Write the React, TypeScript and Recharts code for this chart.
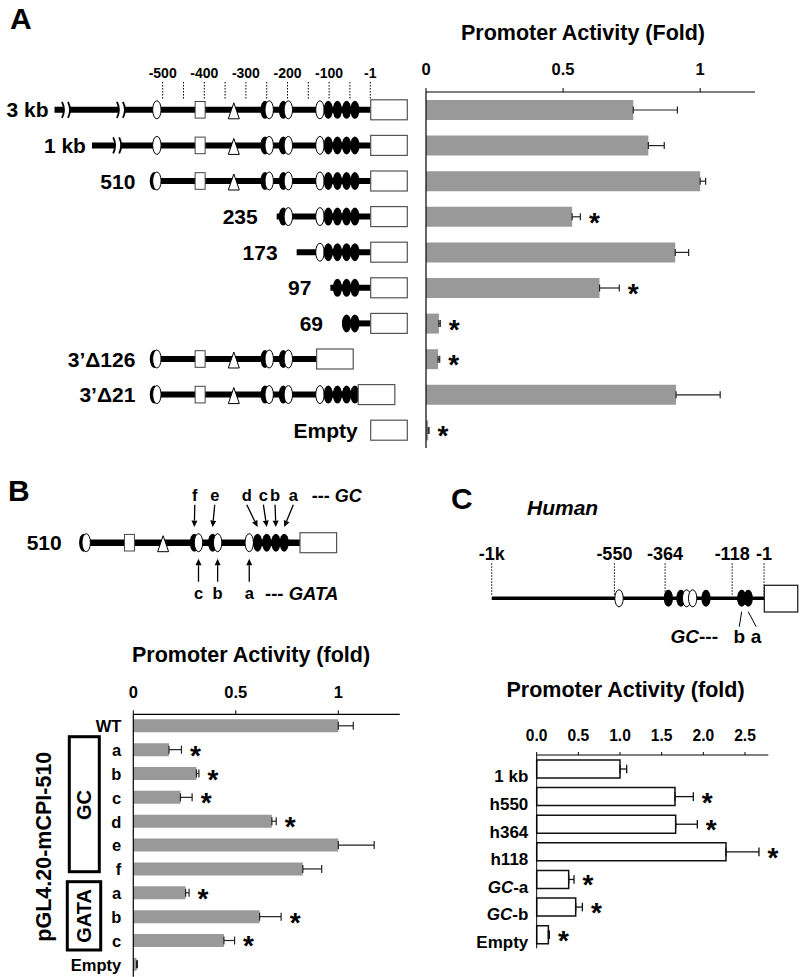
import React from "react";
import {
  BarChart,
  Bar,
  XAxis,
  YAxis,
  ErrorBar,
  LabelList,
  ScatterChart,
  Scatter,
  ReferenceLine,
} from "recharts";

const FONT = "'Liberation Sans', Arial, Helvetica, sans-serif";
const GRAY = "#999999";

// mouse promoter elements (bp from TSS) and their symbols
const SITE_POS = [-514, -410, -329, -254, -244, -210, -198, -122, -102, -80, -58, -38];
const SITE_KIND = ["open", "square", "triangle", "solid", "open", "solid", "open", "open", "solid", "solid", "solid", "solid"];
const POS_TICKS = [-500, -400, -300, -200, -100, -1];
const POS_GUIDES = [-500, -450, -400, -350, -300, -250, -200, -150, -100, -50, -1];

// panel A constructs
const A_NAMES = ["3 kb", "1 kb", "510", "235", "173", "97", "69", "3’Δ126", "3’Δ21", "Empty"];
const A_FROM = [-760, -670, -520, -226, -178, -97, -69, -520, -520, 0];
const A_TO = [0, 0, 0, 0, 0, 0, 0, -130, -30, 0];
const A_CAP = [0, 0, 1, 0, 0, 0, 0, 1, 1, 0];
const A_BREAKS = [[-730, -598], [-607], [], [], [], [], [], [], [], []];
const A_FOLD = [0.756, 0.811, 1.0, 0.533, 0.909, 0.633, 0.047, 0.044, 0.912, 0.008];
const A_SEM = [0.161, 0.058, 0.02, 0.03, 0.049, 0.072, 0.005, 0.006, 0.161, 0.003];
const A_SIG = [0, 0, 0, 1, 0, 1, 1, 1, 0, 1];

// panel B mutants
const B_IDS = ["WT", "GC-a", "GC-b", "GC-c", "GC-d", "GC-e", "GC-f", "GATA-a", "GATA-b", "GATA-c", "Empty"];
const B_TICKS = ["WT", "a", "b", "c", "d", "e", "f", "a", "b", "c", "Empty"];
const B_FOLD = [1.0, 0.174, 0.308, 0.23, 0.676, 1.0, 0.827, 0.255, 0.616, 0.442, 0.016];
const B_SEM = [0.073, 0.061, 0.012, 0.057, 0.021, 0.175, 0.092, 0.017, 0.105, 0.052, 0.004];
const B_SIG = [0, 1, 1, 1, 1, 0, 0, 1, 1, 1, 0];
const GC_MARKS = ["f", "e", "d", "c", "b", "a"];
const GC_SITE = [-254, -210, -102, -80, -58, -38];
const GC_LABEL_AT = [-253, -205, -128, -88, -60, -16];
const GATA_MARKS = ["c", "b", "a"];
const GATA_SITE = [-244, -198, -122];

// panel C human promoter
const H_SITE_POS = [-533, -352, -306, -285, -263, -214, -83, -59];
const H_SITE_KIND = ["open", "solid", "solid", "open", "open", "solid", "solid", "solid"];
const H_TICKS = [-1000, -550, -364, -118, -1];
const H_GC_MARKS = ["b", "a"];
const H_GC_SITE = [-83, -59];
const H_GC_LABEL_AT = [-92, -30];
const C_NAMES = ["1 kb", "h550", "h364", "h118", "GC-a", "GC-b", "Empty"];
const C_FOLD = [1.0, 1.66, 1.668, 2.272, 0.384, 0.468, 0.14];
const C_SEM = [0.08, 0.22, 0.26, 0.396, 0.064, 0.08, 0.012];
const C_SIG = [0, 1, 1, 1, 1, 1, 1];

type Pt = { x: number; y: number; kind: string; text?: string; gap?: number; ry?: number; size?: number };

const Blank = () => <g />;

function Mark(props: any) {
  const { cx, cy, payload } = props;
  const p = payload as Pt;
  const ry = p.ry ?? 9;
  switch (p.kind) {
    case "open":
      return <ellipse cx={cx} cy={cy} rx={4.2} ry={ry} fill="#fff" stroke="#000" strokeWidth={1} />;
    case "solid":
      return <ellipse cx={cx} cy={cy} rx={4.6} ry={ry} fill="#000" />;
    case "square":
      return <rect x={cx - 5} y={cy - 8.3} width={10} height={16.6} fill="#fff" stroke="#444" strokeWidth={1} />;
    case "triangle":
      return (
        <polygon
          points={`${cx},${cy - 7} ${cx - 5.5},${cy + 9} ${cx + 5.5},${cy + 9}`}
          fill="#fff"
          stroke="#000"
          strokeWidth={1}
        />
      );
    case "box":
      return <rect x={cx} y={cy - 10} width={36.6} height={20} fill="#fff" stroke="#555" strokeWidth={1.2} />;
    case "hbox":
      return <rect x={cx} y={cy - 13} width={33.4} height={26.7} fill="#fff" stroke="#222" strokeWidth={1.3} />;
    case "break":
      return (
        <g>
          <rect x={cx - 3} y={cy - 4} width={6} height={8} fill="#fff" />
          <path d={`M${cx - 5},${cy - 8} Q${cx - 1},${cy} ${cx - 5},${cy + 8}`} fill="none" stroke="#000" strokeWidth={1.8} />
          <path d={`M${cx + 1},${cy - 8} Q${cx + 5},${cy} ${cx + 1},${cy + 8}`} fill="none" stroke="#000" strokeWidth={1.8} />
        </g>
      );
    case "label":
      return (
        <text x={cx - (p.gap ?? 19)} y={cy} dy="0.36em" textAnchor="end" fontSize={21} fontWeight="bold" fontFamily={FONT} fill="#000">
          {p.text}
        </text>
      );
    case "letter":
      return (
        <text x={cx} y={cy} dy="0.36em" textAnchor="middle" fontSize={p.size ?? 18} fontWeight="bold" fontFamily={FONT} fill="#000">
          {p.text}
        </text>
      );
  }
  return <g />;
}

const Arrow = (props: any) => {
  const { x1, y1, x2, y2 } = props;
  const ang = Math.atan2(y2 - y1, x2 - x1);
  const L = 6.5;
  const W = 3;
  const bx = x2 - L * Math.cos(ang);
  const by = y2 - L * Math.sin(ang);
  const px = -Math.sin(ang) * W;
  const py = Math.cos(ang) * W;
  return (
    <g>
      <line x1={x1} y1={y1} x2={bx} y2={by} stroke="#000" strokeWidth={1.3} />
      <polygon points={`${x2},${y2} ${bx + px},${by + py} ${bx - px},${by - py}`} fill="#000" />
    </g>
  );
};

const posTick = (size: number, lift: number, fmt?: (v: number) => string) => (p: any) => (
  <text x={p.x} y={p.y - lift} textAnchor="middle" fontSize={size} fontWeight="bold" fontFamily={FONT} fill="#000">
    {fmt ? fmt(p.payload.value) : p.payload.value}
  </text>
);

// builds marks for one promoter row
function rowMarks(y: number, from: number, to: number, cap: boolean, breaks: number[], pos: number[], kind: string[], ry?: number) {
  const out: Pt[] = [];
  breaks.forEach((b) => out.push({ x: b, y, kind: "break" }));
  if (cap) out.push({ x: from, y, kind: "solid", ry });
  pos.forEach((p, k) => {
    if (p >= from && p < to) out.push({ x: p, y, kind: kind[k], ry });
  });
  return out;
}

const starContent = (rows: { value: number; err: number[]; sig: number }[]) => (props: any) => {
  const vb = props.viewBox || props;
  const row = rows[props.index];
  if (!row || !row.sig) return null;
  const x = Number(vb.x);
  const w = Number(vb.width);
  const end = x + (w * (row.value + row.err[1])) / row.value;
  const cy = Number(vb.y) + Number(vb.height) / 2;
  return (
    <text x={end + 14} y={cy + 15} textAnchor="middle" fontSize={28} fontWeight="bold" fontFamily={FONT} fill="#000">
      *
    </text>
  );
};

const axisTickStyle = (size: number) => ({ fill: "#000", fontSize: size, fontWeight: "bold", fontFamily: FONT });

function DiagramA() {
  const marks: Pt[] = [];
  A_NAMES.forEach((name, i) => {
    marks.push(...rowMarks(i, A_FROM[i], A_TO[i], !!A_CAP[i], A_BREAKS[i], SITE_POS, SITE_KIND));
    marks.push({ x: A_TO[i], y: i, kind: "box" });
    const gap = A_BREAKS[i].length ? 6 : A_FROM[i] < A_TO[i] ? 19 : 13;
    marks.push({ x: A_FROM[i], y: i, kind: "label", text: name, gap });
  });
  return (
    <ScatterChart width={420} height={460} margin={{ top: 60.25, right: 7.7, bottom: 12, left: 46.2 }}>
      <XAxis
        type="number"
        dataKey="x"
        domain={[-780, 100]}
        orientation="top"
        ticks={POS_TICKS}
        interval={0}
        height={20}
        tickSize={0}
        axisLine={false}
        tickLine={false}
        tick={posTick(14, 0.5)}
      />
      <YAxis type="number" dataKey="y" domain={[-0.83, 9.5]} reversed hide />
      {POS_GUIDES.map((t) => (
        <ReferenceLine
          key={t}
          segment={[{ x: t, y: -0.78 }, { x: t, y: -0.275 }]}
          stroke="#000"
          strokeWidth={1}
          strokeDasharray="1.5 1.5"
          ifOverflow="visible"
        />
      ))}
      {A_NAMES.map((n, i) =>
        A_FROM[i] < A_TO[i] ? (
          <Scatter
            key={n}
            data={[{ x: A_FROM[i], y: i }, { x: A_TO[i], y: i }]}
            line={{ stroke: "#000", strokeWidth: 6 }}
            shape={Blank}
            isAnimationActive={false}
          />
        ) : null
      )}
      <Scatter data={marks} shape={Mark} isAnimationActive={false} />
    </ScatterChart>
  );
}

function BarsA() {
  const data = A_NAMES.map((name, i) => ({ name, value: A_FOLD[i], err: [0, A_SEM[i]], sig: A_SIG[i] }));
  return (
    <BarChart layout="vertical" width={800} height={460} data={data} margin={{ top: 62, right: 45, bottom: 12, left: 420 }}>
      <XAxis
        type="number"
        domain={[0, 1.2]}
        ticks={[0, 0.5, 1]}
        interval={0}
        orientation="top"
        height={30}
        tickSize={4}
        tickMargin={13}
        axisLine={{ stroke: "#000", strokeWidth: 1.2 }}
        tickLine={{ stroke: "#000" }}
        tick={axisTickStyle(16.5)}
      />
      <YAxis
        yAxisId="a_tick"
        type="number"
        domain={[0, 10]}
        ticks={[0, 1, 2, 3, 4, 5, 6, 7, 8, 9, 10]}
        interval={0}
        reversed
        allowDataOverflow
        width={6}
        tickSize={5}
        tick={false}
        axisLine={{ stroke: "#000", strokeWidth: 1.2 }}
        tickLine={{ stroke: "#000" }}
      />
      <YAxis yAxisId="z_cat" type="category" dataKey="name" hide width={0} />
      <Bar yAxisId="z_cat" dataKey="value" fill={GRAY} barSize={20} isAnimationActive={false}>
        <ErrorBar dataKey="err" direction="x" width={3.5} stroke="#222" strokeWidth={1.2} />
        <LabelList dataKey="value" content={starContent(data)} />
      </Bar>
    </BarChart>
  );
}

function DiagramB() {
  const marks: Pt[] = rowMarks(0, -520, 0, true, [], SITE_POS, SITE_KIND);
  marks.push({ x: 0, y: 0, kind: "box" });
  marks.push({ x: -520, y: 0, kind: "label", text: "510", gap: 22 });
  GC_MARKS.forEach((m, k) => marks.push({ x: GC_LABEL_AT[k], y: 2.37, kind: "letter", text: m, size: 16.5 }));
  GATA_MARKS.forEach((m, k) => marks.push({ x: GATA_SITE[k], y: -2.54, kind: "letter", text: m, size: 16.5 }));
  return (
    <ScatterChart width={420} height={150} margin={{ top: 10, right: 78.4, bottom: 5, left: 67.04 }}>
      <XAxis type="number" dataKey="x" domain={[-560, 100]} hide />
      <YAxis type="number" dataKey="y" domain={[-3.615, 3.135]} hide />
      <Scatter
        data={[{ x: -520, y: 0 }, { x: 0, y: 0 }]}
        line={{ stroke: "#000", strokeWidth: 6.5 }}
        shape={Blank}
        isAnimationActive={false}
      />
      <Scatter data={marks} shape={Mark} isAnimationActive={false} />
      {GC_MARKS.map((m, k) => (
        <ReferenceLine
          key={`gc${m}`}
          segment={[{ x: GC_LABEL_AT[k], y: 1.9 }, { x: GC_SITE[k], y: 0.78 }]}
          shape={Arrow}
        />
      ))}
      {GATA_MARKS.map((m, k) => (
        <ReferenceLine
          key={`gata${m}`}
          segment={[{ x: GATA_SITE[k], y: -1.95 }, { x: GATA_SITE[k], y: -0.8 }]}
          shape={Arrow}
        />
      ))}
    </ScatterChart>
  );
}

function BarsB() {
  const data = B_IDS.map((name, i) => ({ name, value: B_FOLD[i], err: [0, B_SEM[i]], sig: B_SIG[i] }));
  return (
    <BarChart layout="vertical" width={420} height={297} data={data} margin={{ top: 10.3, right: 20.2, bottom: 0.3, left: 67.3 }}>
      <XAxis
        type="number"
        domain={[0, 1.3]}
        ticks={[0, 0.5, 1]}
        interval={0}
        orientation="top"
        height={24}
        tickSize={4}
        tickMargin={12.3}
        axisLine={{ stroke: "#000", strokeWidth: 1.2 }}
        tickLine={{ stroke: "#000" }}
        tick={axisTickStyle(16.5)}
      />
      <YAxis
        yAxisId="a_tick"
        type="number"
        domain={[0, 11]}
        ticks={[0, 1, 2, 3, 4, 5, 6, 7, 8, 9, 10, 11]}
        interval={0}
        reversed
        allowDataOverflow
        width={6}
        tickSize={5}
        tick={false}
        axisLine={{ stroke: "#000", strokeWidth: 1.2 }}
        tickLine={{ stroke: "#000" }}
      />
      <YAxis
        yAxisId="z_cat"
        type="category"
        dataKey="name"
        width={60}
        interval={0}
        axisLine={false}
        tickLine={false}
        tickSize={0}
        tickMargin={6}
        tickFormatter={(v: string) => B_TICKS[B_IDS.indexOf(v)]}
        tick={axisTickStyle(16.5)}
      />
      <Bar yAxisId="z_cat" dataKey="value" fill={GRAY} barSize={13} isAnimationActive={false}>
        <ErrorBar dataKey="err" direction="x" width={4} stroke="#222" strokeWidth={1.2} />
        <LabelList dataKey="value" content={starContent(data)} />
      </Bar>
    </BarChart>
  );
}

function DiagramC() {
  const marks: Pt[] = rowMarks(0, -1000, 0, false, [], H_SITE_POS, H_SITE_KIND, 8.5);
  marks.push({ x: 0, y: 0, kind: "hbox" });
  H_GC_MARKS.forEach((m, k) => marks.push({ x: H_GC_LABEL_AT[k], y: -1.91, kind: "letter", text: m, size: 19 }));
  return (
    <ScatterChart width={380} height={120} margin={{ top: 3.3, right: 1.6, bottom: 5, left: 58.1 }}>
      <XAxis
        type="number"
        dataKey="x"
        domain={[-1050, 125]}
        orientation="top"
        ticks={H_TICKS}
        interval={0}
        height={20}
        tickSize={0}
        axisLine={false}
        tickLine={false}
        tick={posTick(18, 1.8, (v) => (v === -1000 ? "-1k" : String(v)))}
      />
      <YAxis type="number" dataKey="y" domain={[-2.835, 1.75]} hide />
      {H_TICKS.map((t) => (
        <ReferenceLine
          key={t}
          segment={[{ x: t, y: 1.75 }, { x: t, y: 0.1 }]}
          stroke="#000"
          strokeWidth={1}
          strokeDasharray="1.5 1.5"
          ifOverflow="visible"
        />
      ))}
      <Scatter
        data={[{ x: -1000, y: 0 }, { x: 0, y: 0 }]}
        line={{ stroke: "#000", strokeWidth: 3.5 }}
        shape={Blank}
        isAnimationActive={false}
      />
      <Scatter data={marks} shape={Mark} isAnimationActive={false} />
      {H_GC_MARKS.map((m, k) => (
        <ReferenceLine
          key={m}
          segment={[{ x: H_GC_SITE[k], y: -0.67 }, { x: H_GC_LABEL_AT[k], y: -1.42 }]}
          stroke="#000"
          strokeWidth={1}
        />
      ))}
    </ScatterChart>
  );
}

const cTick = (p: any) => {
  const v: string = p.payload.value;
  const gc = v.startsWith("GC");
  return (
    <text x={p.x} y={p.y + 13.5} textAnchor="end" fontSize={17} fontWeight="bold" fontFamily={FONT} fill="#000">
      {gc ? (
        <>
          <tspan fontStyle="italic">GC</tspan>
          <tspan>{v.slice(2)}</tspan>
        </>
      ) : (
        v
      )}
    </text>
  );
};

function BarsC() {
  const data = C_NAMES.map((name, i) => ({ name, value: C_FOLD[i], err: [0, C_SEM[i]], sig: C_SIG[i] }));
  return (
    <BarChart layout="vertical" width={380} height={277} data={data} margin={{ top: 31, right: 31.7, bottom: 28.7, left: 30.7 }}>
      <XAxis
        type="number"
        domain={[0, 2.78]}
        ticks={[0, 0.5, 1, 1.5, 2, 2.5]}
        interval={0}
        orientation="top"
        height={24}
        tickSize={3}
        tickMargin={11.3}
        tickFormatter={(v: number) => v.toFixed(1)}
        axisLine={{ stroke: "#000", strokeWidth: 1 }}
        tickLine={{ stroke: "#000" }}
        tick={axisTickStyle(15.6)}
      />
      <YAxis
        yAxisId="a_tick"
        type="number"
        domain={[0, 7]}
        ticks={[0, 1, 2, 3, 4, 5, 6, 7]}
        interval={0}
        reversed
        allowDataOverflow
        width={6}
        tickSize={3}
        tick={false}
        axisLine={{ stroke: "#000", strokeWidth: 1 }}
        tickLine={{ stroke: "#000" }}
      />
      <YAxis
        yAxisId="z_cat"
        type="category"
        dataKey="name"
        width={80}
        interval={0}
        axisLine={false}
        tickLine={false}
        tickSize={0}
        tickMargin={2.4}
        tick={cTick}
      />
      <Bar yAxisId="z_cat" dataKey="value" fill="#fff" stroke="#111" strokeWidth={1.5} barSize={18} isAnimationActive={false}>
        <ErrorBar dataKey="err" direction="x" width={4.3} stroke="#111" strokeWidth={1.3} />
        <LabelList dataKey="value" content={starContent(data)} />
      </Bar>
    </BarChart>
  );
}

const abs = (left: number, top: number): React.CSSProperties => ({ position: "absolute", left, top });

export default function App() {
  const title = { fontSize: 21.5, fontWeight: "bold" as const, fontFamily: FONT, fill: "#000" };
  return (
    <div style={{ position: "absolute", left: 0, top: 0, width: 800, height: 977, background: "#fff", overflow: "hidden" }}>
      <div style={abs(0, 0)}>
        <DiagramA />
      </div>
      <div style={abs(0, 0)}>
        <BarsA />
      </div>
      <div style={abs(0, 470)}>
        <DiagramB />
      </div>
      <div style={abs(0, 680)}>
        <BarsB />
      </div>
      <div style={abs(420, 540)}>
        <DiagramC />
      </div>
      <div style={abs(420, 700)}>
        <BarsC />
      </div>
      <svg width={800} height={977} style={{ position: "absolute", left: 0, top: 0, pointerEvents: "none" }}>
        <text x={10} y={29} fontSize={30} fontWeight="bold" fontFamily={FONT}>A</text>
        <text x={8} y={501} fontSize={30} fontWeight="bold" fontFamily={FONT}>B</text>
        <text x={451} y={509} fontSize={30} fontWeight="bold" fontFamily={FONT}>C</text>
        <text x={583} y={40} textAnchor="middle" {...title}>Promoter Activity (Fold)</text>
        <text x={251} y={662} textAnchor="middle" {...title}>Promoter Activity (fold)</text>
        <text x={625.5} y={697} textAnchor="middle" {...title}>Promoter Activity (fold)</text>
        <text x={527} y={515} fontSize={21} fontWeight="bold" fontStyle="italic" fontFamily={FONT}>Human</text>
        <text x={311.7} y={501.7} fontSize={18} fontWeight="bold" fontFamily={FONT}>
          {"--- "}
          <tspan fontStyle="italic">GC</tspan>
        </text>
        <text x={265} y={600} fontSize={18.5} fontWeight="bold" fontFamily={FONT}>
          {"--- "}
          <tspan fontStyle="italic">GATA</tspan>
        </text>
        <text x={718} y={643.3} textAnchor="end" fontSize={19} fontWeight="bold" fontFamily={FONT}>
          <tspan fontStyle="italic">GC</tspan>
          {"---"}
        </text>
        <rect x={69.3} y={736.7} width={30} height={135} fill="none" stroke="#000" strokeWidth={3} />
        <rect x={67.3} y={881.7} width={33.4} height={68.3} fill="none" stroke="#000" strokeWidth={3} />
        <text x={84} y={805} dy="0.36em" textAnchor="middle" transform="rotate(-90 84 805)" fontSize={20} fontWeight="bold" fontFamily={FONT}>GC</text>
        <text x={84} y={916} dy="0.36em" textAnchor="middle" transform="rotate(-90 84 916)" fontSize={20} fontWeight="bold" fontFamily={FONT}>GATA</text>
        <text x={43.3} y={846.7} dy="0.36em" textAnchor="middle" transform="rotate(-90 43.3 846.7)" fontSize={21.5} fontWeight="bold" fontFamily={FONT}>pGL4.20-mCPI-510</text>
      </svg>
    </div>
  );
}
